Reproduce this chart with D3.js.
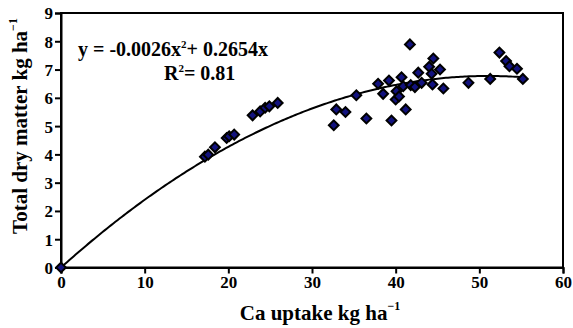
<!DOCTYPE html>
<html><head><meta charset="utf-8">
<script src="https://cdn.jsdelivr.net/npm/d3@7"></script>
<style>body{margin:0;background:#fff}svg{display:block}svg text{font-family:'Liberation Serif','DejaVu Serif','Times New Roman',serif !important;font-weight:bold;fill:#000}</style>
</head><body>
<svg id="c" width="573" height="328"></svg>
<script>
const caUptake = [0,17.2,17.6,18.4,19.8,20.1,20.7,22.9,23.8,24.4,24.9,25.9,32.6,32.9,34.0,35.3,36.5,37.9,38.5,39.2,39.5,40.0,40.1,40.4,40.7,40.9,41.2,41.7,41.8,42.3,42.7,43.1,44.0,44.3,44.4,44.5,45.3,45.7,48.7,51.3,52.4,53.2,53.6,54.5,55.2];
const dryMatter = [0,3.92,3.99,4.25,4.58,4.64,4.70,5.38,5.52,5.65,5.70,5.82,5.03,5.59,5.50,6.09,5.27,6.50,6.14,6.61,5.20,5.94,6.23,6.05,6.73,6.41,5.59,7.89,6.45,6.38,6.89,6.53,7.10,6.85,6.47,7.39,7.00,6.33,6.53,6.67,7.60,7.30,7.12,7.03,6.67];
const xTicks = [0,10,20,30,40,50,60];
const yTicks = [0,1,2,3,4,5,6,7,8,9];
const coefA = -0.0026, coefB = 0.2654;

const FONT = "'Liberation Serif','DejaVu Serif','Times New Roman',serif";
const svg = d3.select("#c");
const L=61, R=563, T=13, B=267.5;
const x = d3.scaleLinear().domain([0,60]).range([L,R]);
const y = d3.scaleLinear().domain([0,9]).range([B,T]);

svg.append("rect").attr("x",L).attr("y",T).attr("width",R-L).attr("height",B-T)
  .attr("fill","none").attr("stroke","#000").attr("stroke-width",2);

const xa = svg.append("g").attr("transform",`translate(0,${B})`)
  .call(d3.axisBottom(x).tickValues(xTicks).tickSize(6).tickPadding(2).tickFormat(d3.format("d")));
const ya = svg.append("g").attr("transform",`translate(${L},0)`)
  .call(d3.axisLeft(y).tickValues(yTicks).tickSize(6).tickPadding(2).tickFormat(d3.format("d")));
[xa,ya].forEach(a=>{
  a.attr("font-family",FONT).attr("font-size",17).attr("font-weight","bold");
  a.selectAll("path").attr("stroke","#000").attr("stroke-width",2);
  a.selectAll("line").attr("stroke","#000").attr("stroke-width",2);
  a.selectAll("text").attr("fill","#000");
});
ya.selectAll("text").attr("dy","0.35em");

const cx = d3.range(0,55.25,0.25);
svg.append("path").datum(cx)
  .attr("d", d3.line().x(d=>x(d)).y(d=>y(coefA*d*d+coefB*d)))
  .attr("fill","none").attr("stroke","#000").attr("stroke-width",2);

const sym = d3.symbol().type(d3.symbolSquare).size(48);
svg.append("g").selectAll("path").data(caUptake.map((v,i)=>[v,dryMatter[i]])).join("path")
  .attr("d",sym)
  .attr("transform",d=>`translate(${x(d[0])},${y(d[1])}) rotate(45)`)
  .attr("fill","#12127e").attr("stroke","#000").attr("stroke-width",2);

const eq = svg.append("text").attr("x",78).attr("y",56).attr("font-family",FONT).attr("font-size",20);
eq.append("tspan").text("y = -0.0026x");
eq.append("tspan").text("2").attr("dy",-8).attr("font-size",11);
eq.append("tspan").text("+ 0.2654x").attr("dy",8);
const r2 = svg.append("text").attr("x",164).attr("y",80).attr("font-family",FONT).attr("font-size",20);
r2.append("tspan").text("R");
r2.append("tspan").text("2").attr("dy",-8).attr("font-size",11);
r2.append("tspan").text("= 0.81").attr("dy",8);

const xt = svg.append("text").attr("x",320).attr("y",320).attr("text-anchor","middle").attr("font-family",FONT).attr("font-size",21);
xt.append("tspan").text("Ca uptake kg ha");
xt.append("tspan").text("\u22121").attr("dy",-10).attr("font-size",12);
const yt = svg.append("text").attr("transform","translate(27,126) rotate(-90)").attr("text-anchor","middle").attr("font-family",FONT).attr("font-size",21);
yt.append("tspan").text("Total dry matter kg ha");
yt.append("tspan").text("\u22121").attr("dy",-10).attr("font-size",12);
</script>
</body></html>
